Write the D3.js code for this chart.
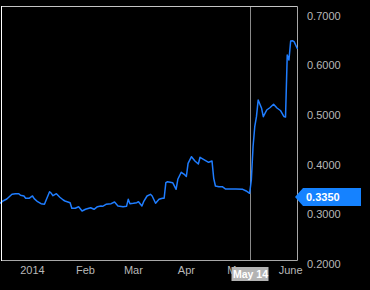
<!DOCTYPE html>
<html>
<head>
<meta charset="utf-8">
<script src="https://cdn.jsdelivr.net/npm/d3@7"></script>
<style>
  html, body { margin: 0; padding: 0; background: #000; }
  svg { display: block; }
</style>
</head>
<body>
<div id="chart"></div>
<script>
// price series
var dates = ["2013-12-13","2013-12-15","2013-12-17","2013-12-20","2013-12-22","2013-12-24","2013-12-25","2013-12-27","2013-12-28","2013-12-30",
  "2014-01-01","2014-01-02","2014-01-04","2014-01-06","2014-01-08","2014-01-09","2014-01-11","2014-01-12","2014-01-13","2014-01-15",
  "2014-01-17","2014-01-19","2014-01-20","2014-01-23","2014-01-24","2014-01-26","2014-01-28","2014-01-30","2014-02-01","2014-02-04",
  "2014-02-06","2014-02-08","2014-02-10","2014-02-11","2014-02-13","2014-02-16","2014-02-18","2014-02-20","2014-02-23","2014-02-25",
  "2014-02-26","2014-02-27","2014-03-01","2014-03-03","2014-03-04","2014-03-06","2014-03-07","2014-03-09","2014-03-11","2014-03-12",
  "2014-03-14","2014-03-16","2014-03-18","2014-03-19","2014-03-20","2014-03-21","2014-03-24","2014-03-26","2014-03-27","2014-03-29",
  "2014-03-31","2014-04-01","2014-04-02","2014-04-04","2014-04-06","2014-04-08","2014-04-09","2014-04-11","2014-04-14","2014-04-16",
  "2014-04-17","2014-04-18","2014-04-20","2014-04-22","2014-04-24","2014-04-27","2014-04-30","2014-05-04","2014-05-06","2014-05-08",
  "2014-05-09","2014-05-10","2014-05-11","2014-05-12","2014-05-13","2014-05-15","2014-05-16","2014-05-18","2014-05-20","2014-05-22",
  "2014-05-24","2014-05-26","2014-05-28","2014-05-29","2014-05-30","2014-05-31","2014-06-01","2014-06-02","2014-06-03","2014-06-05"];

var prices = [0.3224,0.3276,0.3310,0.3405,0.3417,0.3417,0.3385,0.3371,0.3325,0.3325,
  0.3371,0.3317,0.3256,0.3216,0.3204,0.3290,0.3458,0.3425,0.3377,0.3417,
  0.3345,0.3290,0.3270,0.3236,0.3123,0.3123,0.3155,0.3069,0.3103,0.3135,
  0.3103,0.3155,0.3169,0.3163,0.3204,0.3216,0.3250,0.3169,0.3155,0.3163,
  0.3304,0.3216,0.3224,0.3236,0.3256,0.3169,0.3256,0.3371,0.3405,0.3371,
  0.3224,0.3304,0.3325,0.3325,0.3639,0.3659,0.3639,0.3506,0.3708,0.3849,
  0.3800,0.3764,0.4030,0.4163,0.4077,0.4016,0.4151,0.4111,0.4050,0.4077,
  0.3728,0.3573,0.3558,0.3558,0.3512,0.3512,0.3512,0.3506,0.3472,0.3425,
  0.3694,0.4365,0.4768,0.4970,0.5306,0.5139,0.4970,0.5105,0.5155,0.5220,
  0.5145,0.5095,0.4974,0.4964,0.6214,0.6113,0.6496,0.6502,0.6482,0.6335];

var yTicks = [0.2, 0.3, 0.4, 0.5, 0.6, 0.7];
var monthTicks = ["2014-01-01","2014-02-01","2014-03-01","2014-04-01","2014-05-01","2014-06-01"];
var monthLabels = ["2014","Feb","Mar","Apr","May","June"];

var markerValue = 0.3350;
var crossDate = "2014-05-08";
var crossLabel = "May 14";

var width = 370, height = 290;
var parse = d3.timeParse("%Y-%m-%d");

var data = dates.map(function(d, i){ return {date: parse(d), value: prices[i]}; });

var x = d3.scaleTime()
  .domain([parse("2013-12-13"), parse("2014-06-05")])
  .range([0, 297.5]);

var y = d3.scaleLinear()
  .domain([0.2, 0.7])
  .range([264, 16]);

var svg = d3.select("#chart").append("svg")
  .attr("width", width)
  .attr("height", height)
  .style("font-family", "'Liberation Sans', Arial, sans-serif");

svg.append("rect").attr("width", width).attr("height", height).attr("fill", "#000");

// frame
svg.append("line").attr("x1", 1.5).attr("x2", 297.5).attr("y1", 6.5).attr("y2", 6.5)
  .attr("stroke", "#c4c4c4");
svg.append("line").attr("x1", 1.5).attr("x2", 297.5).attr("y1", 260.5).attr("y2", 260.5)
  .attr("stroke", "#a8a8a8");
svg.append("line").attr("x1", 297.5).attr("x2", 297.5).attr("y1", 6.5).attr("y2", 260.5)
  .attr("stroke", "#a8a8a8");

// crosshair
var cx = Math.round(x(parse(crossDate))) + 0.5;
svg.append("line").attr("x1", cx).attr("x2", cx).attr("y1", 7).attr("y2", 260)
  .attr("stroke", "#8a8a8a");

// price line
var line = d3.line()
  .x(function(d){ return x(d.date); })
  .y(function(d){ return y(d.value); });

svg.append("path")
  .datum(data)
  .attr("d", line)
  .attr("fill", "none")
  .attr("stroke", "#1f7dff")
  .attr("stroke-width", 1.5)
  .attr("stroke-linejoin", "round");

svg.append("line").attr("x1", 1.5).attr("x2", 1.5).attr("y1", 6).attr("y2", 261)
  .attr("stroke", "#ffffff");

// y labels
svg.selectAll(".ylab")
  .data(yTicks)
  .enter()
  .append("text")
  .attr("class", "ylab")
  .attr("x", 307)
  .attr("y", function(d){ return y(d); })
  .attr("dy", "0.35em")
  .attr("fill", "#b8b8b8")
  .style("font-size", "11px")
  .text(function(d){ return d.toFixed(4); });

// x labels
svg.selectAll(".xlab")
  .data(monthTicks)
  .enter()
  .append("text")
  .attr("class", "xlab")
  .attr("x", function(d){ return x(parse(d)); })
  .attr("y", 274)
  .attr("text-anchor", "middle")
  .attr("fill", "#b8b8b8")
  .style("font-size", "11px")
  .text(function(d, i){ return monthLabels[i]; });

// crosshair date tag
var tag = svg.append("g");
tag.append("rect")
  .attr("x", cx - 19).attr("y", 267).attr("width", 37).attr("height", 14)
  .attr("fill", "#b3b3b3");
tag.append("text")
  .attr("x", cx).attr("y", 278)
  .attr("text-anchor", "middle")
  .attr("fill", "#fff")
  .style("font-size", "10.5px")
  .style("font-weight", "bold")
  .text(crossLabel);

// value marker
var my = y(markerValue);
svg.append("path")
  .attr("d", "M295," + my + "L303," + (my - 9) + "L361," + (my - 9) + "L361," + (my + 9) + "L303," + (my + 9) + "Z")
  .attr("fill", "#1582ff");
svg.append("text")
  .attr("x", 306)
  .attr("y", my)
  .attr("dy", "0.36em")
  .attr("fill", "#fff")
  .style("font-size", "11px")
  .style("font-weight", "bold")
  .text(markerValue.toFixed(4));
</script>
</body>
</html>
